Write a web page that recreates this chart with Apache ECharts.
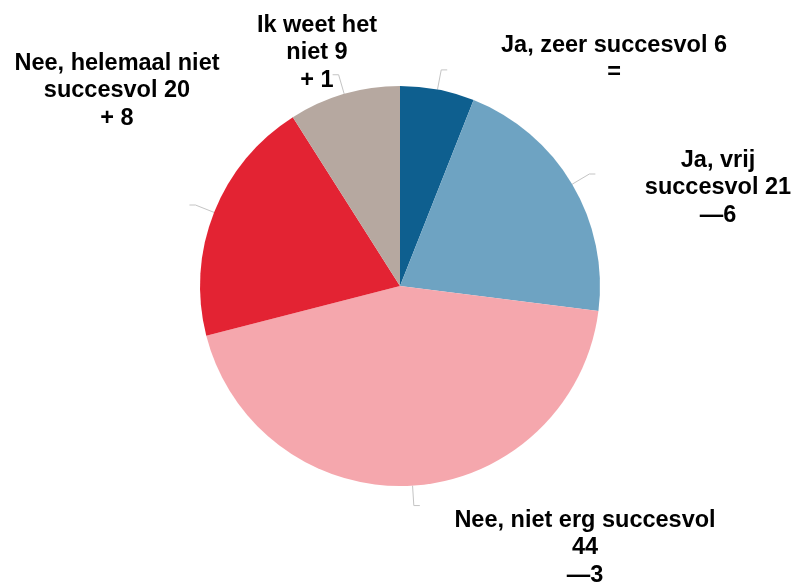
<!DOCTYPE html>
<html>
<head>
<meta charset="utf-8">
<script src="https://cdn.jsdelivr.net/npm/echarts@6/dist/echarts.min.js"></script>
<style>html,body{margin:0;padding:0;background:#fff}#c{width:795px;height:582px}</style>
</head>
<body>
<div id="c"></div>
<script>
const categories = ['Ja, zeer succesvol', 'Ja, vrij\nsuccesvol', 'Nee, niet erg succesvol', 'Nee, helemaal niet\nsuccesvol', 'Ik weet het\nniet'];
const values = [6, 21, 44, 20, 9];
const changes = ['=', '\u20146', '\u20143', '+ 8', '+ 1'];
const valueSeparators = [' ', ' ', '\n', ' ', ' '];
const colors = ['#0e5f8f', '#6ea3c2', '#f5a7ad', '#e32333', '#b6a8a0'];
const labelCenters = [[614, 59], [718, 188], [585, 548], [117, 91], [317, 53]];

const data = categories.map((c, i) => ({ name: c, value: values[i], itemStyle: { color: colors[i] } }));

const chart = echarts.init(document.getElementById('c'), null, { renderer: 'canvas' });
chart.setOption({
  animation: false,
  backgroundColor: '#ffffff',
  series: [
    {
      type: 'pie',
      center: [400, 286],
      radius: 200,
      startAngle: 90,
      clockwise: true,
      avoidLabelOverlap: false,
      data: data.map(d => ({ name: d.name, value: d.value, itemStyle: { color: 'rgba(0,0,0,0)' } })),
      silent: true,
      z: 1,
      label: { show: true, formatter: ' ', fontSize: 2, color: 'rgba(0,0,0,0)' },
      labelLine: { show: true, length: 20, length2: 6, lineStyle: { color: '#c4c4c4', width: 1 } }
    },
    {
      type: 'pie',
      center: [400, 286],
      radius: 200,
      startAngle: 90,
      clockwise: true,
      avoidLabelOverlap: false,
      z: 2,
      data: data,
      label: {
        show: true,
        formatter: p => p.name + valueSeparators[p.dataIndex] + p.value + '\n' + changes[p.dataIndex],
        fontFamily: 'Liberation Sans, Arial, sans-serif',
        fontWeight: 'bold',
        fontSize: 23.5,
        lineHeight: 27.5,
        color: '#000',
        align: 'center'
      },
      labelLine: { show: false },
      labelLayout: p => ({
        x: labelCenters[p.dataIndex][0],
        y: labelCenters[p.dataIndex][1],
        align: 'center',
        verticalAlign: 'middle'
      })
    }
  ]
});
</script>
</body>
</html>
